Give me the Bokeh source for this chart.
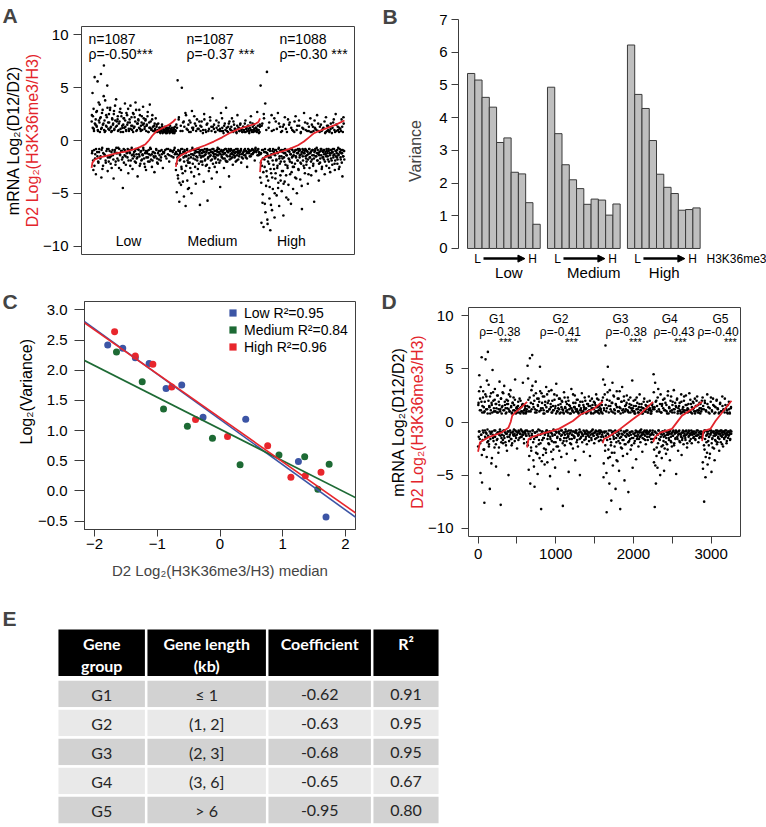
import numpy as np
from bokeh.plotting import figure
from bokeh.layouts import column, row
from bokeh.models import (Range1d, FixedTicker, Label, Slope, Legend, LegendItem,
                          Arrow, NormalHead, Title)
from bokeh.core.properties import value
from bokeh.embed import file_html
from bokeh.resources import INLINE

FONT = "Liberation Sans"
TFONT = "Lato"
RED = "#e3242b"
AXC = "#3c3c3c"
MINUS = "\u2212"

# ======================= DATA =======================
# ---- Panel A: mRNA log2(D12/D2), genes ranked by H3K36me3 within each group
# (two interleaved samples of genes per group, each in rank order)
a_groups = ["Low", "Medium", "High"]
a_sizes = [1087, 1087, 1088]
a_n_text = ["n=1087", "n=1087", "n=1088"]
a_rho_text = ["ρ=-0.50***", "ρ=-0.37 ***", "ρ=-0.30 ***"]

a_low_mrna = [
    1.8, -1.2, 4.5, 2.3, -2.8, 1.1, -0.9, 6.0, -1.7, 1.5,
    -3.2, 2.7, 1.3, -1.1, 5.6, 0.9, -2.1, 1.9, -0.8, 3.4,
    2.1, -1.5, 6.3, -3.5, 1.2, -0.7, 2.9, -2.4, 1.6, 7.1,
    -1.3, 0.8, 3.8, -1.9, 1.4, -1.0, 2.2, 5.2, -2.9, 1.7,
    -0.8, 2.5, 1.0, -1.6, 3.1, -2.2, 1.3, -1.1, 0.9, 2.0,
    -1.4, 1.6, -3.6, 2.8, 1.1, -0.9, 1.9, -2.0, 3.9, -1.2,
    1.4, -1.7, 2.3, -0.7, 1.0, -2.6, 1.8, -1.3, 3.0, 0.8,
    -1.0, 2.6, -1.8, 1.2, -4.5, 1.5, -0.8, 2.1, -1.4, 3.5,
    1.3, -2.3, 0.9, -1.1, 2.4, -1.6, 1.7, -3.1, 1.1, -0.9,
    2.0, -1.2, 3.3, -1.9, 1.4, -0.7, 1.0, -2.7, 2.6, -1.3,
    1.2, -1.5, 2.2, -1.0, 3.6, -2.1, 0.9, -1.7, 1.6, -3.4,
    -0.8, 1.9, -1.3, 2.9, -2.4, 1.1, -1.1, 1.4, -1.9, 2.3,
    1.0, -1.4, 3.2, -0.9, 1.6, -2.2, 1.3, -1.2, 2.0, -2.8,
    -1.6, 1.5, -1.0, 2.7, -2.0, 0.8, -1.3, 1.2, 3.4, -0.7,
    1.8, -1.8, 1.1, -2.5, 2.4, -1.1, 0.9, -1.5, 1.4, -3.0,
    -1.2, 1.0, 2.1, -0.8, 1.3, -1.7, 0.8, -2.2, 1.6, -1.0,
    0.9, -1.4, 1.2, 0.7, -1.9, 1.0, -0.9, 1.5, 0.8, -2.6,
    1.1, 0.8, -1.1, 0.9, 1.3, -1.5, 0.7, 1.0, -0.8, 1.2,
    0.8, -1.3, 1.1, 0.9, -2.0, 0.7, 1.4, -0.9, 1.0, 0.8,
    1.2, -1.0, 0.9, 0.7, -1.6, 1.1, 0.8, -0.7, 1.3, -1.2,
]
a_low_mrna_b = [
    2.4, -1.0, 1.2, -1.9, 3.0, 0.9, -2.4, 1.6, -1.3, 2.0,
    -0.8, 1.4, 2.8, -1.5, 1.0, -2.0, 3.6, -1.1, 1.7, 0.8,
    -1.7, 2.2, 1.1, -0.9, 2.6, -2.7, 1.5, -1.2, 4.2, 1.0,
    1.9, -1.4, 0.9, -2.1, 2.4, 1.3, -0.8, 3.1, -1.6, 1.1,
    -2.0, 1.7, -1.0, 2.9, 1.2, -1.5, 0.8, -2.6, 2.1, -0.9,
    1.5, -1.8, 2.5, 1.0, -1.1, 3.3, -2.3, 1.3, -0.7, 1.8,
    -1.2, 2.0, 0.9, -1.9, 1.6, -0.8, 2.7, -1.4, 1.1, -2.8,
    2.3, -1.0, 1.4, -1.6, 0.8, 2.1, -2.1, 1.2, -0.9, 1.9,
    -1.5, 1.0, 2.6, -1.2, 1.5, -0.8, 3.0, -1.9, 0.9, -1.1,
    1.7, -2.4, 1.1, -0.9, 2.2, -1.4, 1.4, -1.7, 0.8, 2.5,
    -1.1, 1.3, -2.0, 1.8, -0.8, 2.9, -1.3, 1.0, -1.6, 1.6,
    2.0, -0.9, 1.2, -1.5, 2.4, -2.2, 0.9, -1.0, 1.7, -1.8,
    -1.3, 1.5, -0.7, 2.1, -1.7, 1.1, -2.5, 1.9, -1.0, 0.9,
    1.4, -1.2, 2.3, -1.6, 0.8, -0.9, 1.7, -2.0, 1.2, -1.4,
    -0.8, 1.0, -1.3, 2.0, -1.9, 1.3, -1.1, 0.9, -1.6, 1.6,
    1.1, -1.5, 0.8, -0.9, 1.5, -2.1, 1.0, -1.2, 0.9, -1.8,
    1.2, 0.8, -1.0, 1.0, -1.6, 0.9, -1.3, 1.3, 0.7, -1.1,
    0.9, -1.2, 1.0, 0.8, -0.9, 1.2, 0.9, -1.7, 0.7, 1.1,
    1.0, -0.8, 0.9, 1.2, -1.4, 0.8, -1.0, 1.1, 0.9, -1.5,
    0.8, 1.0, -1.1, 0.9, 1.2, -0.9, 0.7, -1.3, 1.0, 0.9,
]
a_medium_mrna = [
    -2.8, 1.5, -4.9, -1.3, 5.7, -3.6, -1.0, 2.2, -5.8, -1.9,
    -1.2, 0.9, -4.2, -2.5, 5.0, -0.8, -3.1, 1.7, -1.6, -5.3,
    1.3, -1.1, -2.9, -6.2, 2.4, -1.5, -0.9, -3.8, 1.0, -2.1,
    -1.7, -4.5, 1.9, -1.0, -2.6, 0.8, -1.3, -5.0, 2.8, -0.7,
    -2.2, 1.2, -1.4, -3.4, -0.9, 1.6, -1.8, -4.1, 0.9, -1.1,
    2.0, -1.6, -2.7, -0.8, 1.1, -3.2, -1.2, -6.1, 1.4, -2.0,
    -0.9, 1.8, -1.5, -2.3, 0.7, -1.0, -3.9, 2.5, -1.4, -1.9,
    1.0, -2.4, -1.1, 1.5, -0.8, -5.7, -1.7, 0.9, -2.9, -1.2,
    -1.5, 2.2, -0.9, -1.9, 1.3, -3.6, -1.1, 4.0, -2.2, -0.8,
    1.1, -1.3, -2.5, 0.8, -1.6, -1.0, 1.9, -3.0, -1.4, -0.7,
    -1.8, 1.4, -1.1, -2.1, 0.9, -4.4, -1.3, 2.6, -0.9, -1.6,
    1.2, -1.0, -1.7, 0.7, -2.6, -1.2, 1.6, -0.8, -1.9, 3.1,
    -1.4, 0.9, -2.0, -1.1, 1.3, -0.8, -3.4, 1.8, -1.5, -1.0,
    1.0, -1.7, -0.9, 2.1, -1.3, -2.3, 0.8, -1.1, 1.5, -1.6,
    -1.2, 1.1, -2.0, -0.8, 0.7, -1.4, 2.4, -1.0, -1.8, 1.2,
    -1.5, 0.9, -1.1, 1.6, -0.9, -2.1, 1.0, -1.3, 0.8, -1.7,
    1.3, -1.0, -1.4, 0.8, -0.8, 1.9, -1.6, 1.1, -1.2, -2.5,
    0.9, -1.1, 1.4, -0.9, 0.7, -1.5, 1.2, -1.0, 2.3, -1.3,
    1.0, -0.8, 1.6, -1.2, 0.8, -1.0, 1.1, -1.9, 0.9, -0.7,
    1.2, -1.1, 0.8, 2.7, -0.9, 1.0, -1.4, 0.7, -1.2, 1.5,
]
a_medium_mrna_b = [
    -1.1, -2.2, 1.2, -1.6, -3.3, -0.9, 2.0, -1.4, -4.0, -1.0,
    -1.8, 1.4, -0.8, -2.7, -1.3, 0.9, -3.9, -1.1, 1.8, -2.0,
    -0.9, -1.5, 2.6, -1.2, -2.4, 1.1, -0.8, -1.9, -4.6, 1.5,
    -1.4, 0.8, -2.1, -1.0, 1.7, -1.6, -3.0, -0.9, 1.2, -1.3,
    1.0, -1.7, -0.9, 2.3, -1.2, -2.5, -1.0, 1.4, -1.5, -0.8,
    -1.9, 1.1, -1.1, -0.8, -2.2, 1.8, -1.4, -1.0, 0.9, -1.6,
    1.3, -1.2, -2.0, -0.9, 1.0, -1.5, -1.1, 2.0, -0.8, -1.8,
    -1.3, 0.8, -1.0, -2.3, 1.6, -0.9, -1.6, -1.2, 1.1, -2.6,
    -0.9, 1.9, -1.4, -1.1, 0.9, -1.8, -0.8, 1.3, -1.2, -1.5,
    1.5, -1.0, -1.7, 0.8, -1.3, -2.1, 1.2, -0.9, -1.1, 1.0,
    -1.4, 1.7, -0.8, -1.2, 1.1, -1.9, -1.0, 0.9, -1.5, 2.1,
    -1.1, 0.9, -1.3, -0.9, 1.4, -1.7, -1.2, 1.0, -0.8, -2.0,
    1.2, -1.0, -1.5, 0.8, -1.1, 1.6, -0.9, -1.8, 1.1, -1.3,
    -0.8, 1.3, -1.2, -1.6, 0.9, -1.0, 1.8, -1.4, -0.9, 1.1,
    -1.5, 1.0, -1.1, 0.8, -1.9, 1.4, -0.8, -1.2, 1.2, -1.0,
    0.9, -1.3, 1.5, -1.0, -0.8, 1.1, -1.6, 0.8, -1.2, 1.3,
    -1.1, 1.0, -0.9, 1.6, -1.4, 0.8, -1.0, 1.2, -1.7, 0.9,
    1.4, -0.8, 1.1, -1.2, 0.9, -1.0, 1.7, -1.5, 1.0, -0.9,
    0.8, -1.3, 1.3, -0.9, 1.0, 1.5, -1.1, 0.9, -0.8, 1.2,
    -1.0, 1.1, 0.9, -1.4, 1.4, -0.8, 1.0, -1.1, 0.8, 1.3,
]
a_high_mrna = [
    -3.5, 5.2, -1.2, -7.8, -2.4, 1.6, -5.1, -0.9, -8.2, 2.1,
    -1.8, -6.0, 3.5, -1.1, -4.3, -2.9, 6.5, -7.5, -1.4, -3.8,
    1.2, -2.2, -5.5, -0.8, -8.5, -1.6, -3.1, 2.4, -6.6, -1.0,
    -4.6, -1.3, 1.0, -2.7, -7.3, -0.9, -3.6, 1.8, -1.9, -5.2,
    -1.1, -2.4, 2.6, -4.0, -0.7, -6.2, -1.5, 1.3, -3.3, -2.0,
    -0.9, -4.8, 0.9, -1.7, -2.9, -7.1, 1.5, -1.2, -3.9, -0.8,
    -2.3, 1.1, -5.4, -1.4, -0.9, -2.6, 2.0, -4.2, -1.0, -1.8,
    1.7, -3.2, -1.3, -6.0, -0.8, -2.1, 1.0, -1.5, -4.6, -1.1,
    -2.5, 0.8, -1.0, -3.5, 2.3, -1.6, -0.9, -5.0, 1.4, -1.9,
    -1.2, -2.8, 1.9, -0.8, -1.4, -3.7, 0.7, -2.2, -1.1, -6.5,
    1.2, -1.5, -0.9, -2.4, 2.6, -1.2, -3.1, -0.8, 1.0, -1.7,
    -2.0, -1.0, 1.6, -4.1, -1.3, 0.9, -0.8, -2.6, -1.6, 2.1,
    -1.1, -3.3, 0.8, -1.8, -0.9, 1.3, -2.2, -1.4, -5.8, 1.9,
    -1.0, 1.1, -2.9, -1.5, -0.7, 2.4, -1.9, -1.2, 0.9, -3.8,
    -1.4, 0.8, -2.1, -1.0, 1.5, -0.8, -2.7, 1.0, -1.6, -1.1,
    1.2, -1.8, -0.9, -3.2, 0.7, -1.3, 2.2, -2.4, -1.0, 0.9,
    -1.5, 1.4, -0.8, -2.0, 0.8, -1.2, -3.0, 1.1, -1.7, -0.9,
    0.7, -2.3, -1.1, 1.7, -1.4, -0.8, 1.0, -2.8, -1.9, 2.5,
    -1.0, 0.9, -1.6, -2.2, 1.3, -0.7, -1.3, 0.8, -2.5, -1.1,
    1.1, -1.8, -0.9, 2.0, -1.2, -3.4, 0.8, -1.5, 1.6, -1.0,
]
a_high_mrna_b = [
    -1.3, -2.1, -4.0, 1.4, -0.9, -5.9, -1.7, -3.0, 2.5, -1.1,
    -2.5, -0.8, -6.8, -1.5, 1.0, -3.4, -1.2, -7.9, -2.0, -0.9,
    -1.6, 1.7, -4.4, -1.0, -2.7, -6.1, -1.3, 0.9, -3.5, -1.9,
    -0.8, -2.3, -1.1, 2.1, -5.0, -1.4, -3.1, -0.9, -1.8, 1.1,
    -2.6, -1.2, -4.5, -0.8, 1.6, -1.7, -2.2, -1.0, -3.8, 0.8,
    -1.5, -2.9, -1.1, 1.3, -0.9, -4.1, -1.6, -2.0, 2.2, -1.2,
    -0.9, -3.3, -1.4, 0.8, -2.4, -1.0, -5.6, -1.7, 1.5, -1.1,
    -2.0, -0.8, -1.3, 1.2, -3.0, -1.6, -0.9, -2.5, 0.9, -1.4,
    -1.1, 1.8, -2.2, -0.9, -1.5, -3.6, 1.0, -1.2, -1.9, -0.8,
    -2.7, -1.0, 1.4, -1.6, -0.9, -2.1, 0.8, -1.3, -4.3, -1.1,
    -0.8, -1.9, 1.1, -1.2, -2.6, -1.0, 1.7, -1.5, -0.9, -2.3,
    -1.4, 0.9, -1.1, -1.8, -3.2, 1.3, -0.8, -1.6, -1.2, 0.8,
    -2.0, -1.0, 1.5, -1.4, -0.9, -2.4, 0.9, -1.7, -1.1, 1.2,
    -0.8, -1.5, -2.9, 1.0, -1.2, -1.9, -0.9, 1.6, -1.3, -2.2,
    -1.1, 1.3, -1.7, -0.8, -1.4, 0.9, -2.5, -1.0, 1.1, -1.6,
    -0.9, -1.3, 1.8, -2.0, -1.1, 0.8, -1.5, -0.8, 1.4, -1.2,
    -1.8, 1.0, -1.0, -2.6, 0.9, -1.4, -0.9, 1.6, -1.2, -1.9,
    -1.1, 1.2, -0.8, -1.6, 2.0, -1.3, -2.2, 0.8, -1.0, -1.5,
    1.5, -1.2, -0.9, -1.8, 1.0, -1.4, -2.7, 1.2, -0.8, -1.1,
    -1.6, 0.9, -1.2, -2.1, 1.3, -0.9, -1.5, 2.2, -1.0, -1.8,
]
# sorted D2 log2(H3K36me3/H3) within each group: (rank within group, value)
a_low_k36_rank = [0, 11, 43, 109, 217, 326, 435, 544, 630, 696, 739, 783, 826, 870, 935, 1000, 1054, 1087]
a_low_k36 = [-2.6, -2.1, -1.8, -1.6, -1.4, -1.2, -1.05, -0.85, -0.6, -0.35, 0.0, 0.45, 0.8, 1.0, 1.25, 1.5, 1.8, 2.05]
a_medium_k36_rank = [0, 22, 65, 163, 272, 380, 489, 598, 707, 815, 924, 1033, 1065, 1087]
a_medium_k36 = [-2.5, -1.7, -1.4, -1.05, -0.75, -0.45, -0.1, 0.3, 0.75, 1.1, 1.35, 1.6, 1.75, 2.1]
a_high_k36_rank = [0, 11, 54, 163, 272, 381, 490, 566, 631, 696, 762, 870, 979, 1088]
a_high_k36 = [-3.0, -1.9, -1.6, -1.3, -1.05, -0.8, -0.45, -0.1, 0.3, 0.7, 0.9, 1.2, 1.5, 1.9]

# ---- Panel B: variance per H3K36me3 bin (L -> H)
b_groups = ["Low", "Medium", "High"]
b_low_var = [5.35, 5.15, 4.62, 4.32, 3.24, 3.38, 2.33, 2.28, 1.40, 0.74]
b_medium_var = [4.93, 3.51, 2.56, 2.10, 1.83, 1.35, 1.51, 1.48, 1.02, 1.36]
b_high_var = [6.22, 4.71, 4.28, 3.30, 2.27, 1.87, 1.68, 1.17, 1.19, 1.24]

# ---- Panel C: bin median of D2 log2(H3K36me3/H3)
c_low_median = [-1.79, -1.55, -1.35, -1.13, -0.86, -0.61, -0.27, 0.41, 1.25, 1.69]
c_medium_median = [-1.65, -1.24, -0.90, -0.52, -0.12, 0.32, 0.94, 1.35, 1.56, 1.74]
c_high_median = [-1.68, -1.35, -1.07, -0.77, -0.39, 0.12, 0.76, 1.13, 1.36, 1.61]
c_r2 = ["0.95", "0.84", "0.96"]

# ---- Panel D: genes grouped by length
d_groups = ["G1", "G2", "G3", "G4", "G5"]
d_rho = ["ρ=-0.38", "ρ=-0.41", "ρ=-0.38", "ρ=-0.43", "ρ=-0.40"]
d_bounds = [0, 631, 1604, 2253, 2884, 3262]
d_g1_mrna = [
    -2.3, 1.8, -0.9, 4.4, -1.6, 2.2, -4.8, 1.1, -1.2, 6.1,
    -5.7, 1.5, -0.8, 2.9, -2.6, 0.9, -7.6, 1.9, -1.4, 5.9,
    -1.0, 2.4, -3.3, 1.2, -0.7, 6.6, -1.8, 3.5, -2.1, 1.4,
    -6.3, 0.8, -1.1, 2.7, -3.9, 1.6, -0.9, 4.9, -1.5, 2.0,
    -1.3, 1.0, -2.4, 3.1, -0.8, 1.7, -4.2, 1.3, -1.7, 2.5,
    -1.0, 0.9, -2.9, 1.9, -1.2, 3.8, -0.7, 1.2, -7.8, 2.2,
    -1.5, 1.4, -0.9, 2.8, -2.0, 1.1, -1.3, 3.4, -0.8, 1.6,
    -1.9, 0.8, -1.1, 2.1, -2.7, 1.3, -0.9, 1.7, -5.0, 2.6,
    -1.4, 1.0, -0.8, 3.0, -1.6, 1.5, -2.2, 0.9, -1.0, 1.8,
    -1.2, 2.3, -0.7, 1.1, -1.8, 4.0, -1.3, 0.8, -0.9, 1.4,
    -2.5, 1.2, -1.0, 1.9, -0.8, 0.9, -1.5, 1.3, -1.1, 2.0,
    -0.7, 1.0, -1.4, 1.6, -0.9, 3.7, -1.2, 0.8, -2.0, 1.1,
    -1.0, 1.5, -0.8, 0.9, -1.3, 1.2,
]
d_g1_mrna_b = [
    1.6, -1.4, 2.9, -0.9, 1.1, -2.0, 3.3, -1.2, 1.9, -3.1,
    0.9, -1.7, 2.3, -1.0, 1.4, -2.6, 1.0, -0.8, 2.6, -1.5,
    1.2, -1.1, 3.9, -1.9, 0.8, -1.3, 2.0, -2.3, 1.5, -0.9,
    2.4, -1.6, 1.1, -1.0, 1.8, -3.4, 0.9, -1.2, 2.8, -1.8,
    1.3, -0.8, 2.1, -1.4, 1.0, -2.1, 1.7, -1.1, 0.9, -1.6,
    2.5, -1.0, 1.2, -2.4, 1.6, -0.9, 1.0, -1.3, 2.2, -1.9,
    0.8, -1.2, 1.5, -1.7, 2.7, -0.8, 1.1, -1.5, 1.9, -1.0,
    1.3, -2.2, 0.9, -1.1, 1.7, -1.4, 2.0, -0.9, 1.2, -1.8,
    1.0, -1.2, 2.4, -1.0, 1.4, -1.6, 0.8, -2.0, 1.8, -0.9,
    1.1, -1.3, 1.6, -1.1, 2.1, -0.8, 1.0, -1.5, 1.3, -1.2,
    0.9, -1.0, 1.5, -1.7, 1.2, -0.9, 2.2, -1.1, 0.8, -1.4,
    1.4, -0.8, 1.0, -1.2, 1.7, -1.0, 0.9, -1.6, 1.1, -0.9,
    1.3, -1.1, 0.8, -1.3, 1.0, -0.8,
]
d_g2_mrna = [
    -1.9, 5.3, -0.9, 2.1, -4.5, 1.4, -1.3, 6.0, -5.8, 1.0,
    -2.4, 3.0, -1.1, 6.3, -0.8, 1.7, -3.6, 2.5, -1.6, -6.1,
    1.2, -1.0, 3.8, -2.9, 0.9, -1.4, 2.2, -4.9, 1.5, -0.7,
    -2.1, 1.9, -3.4, 5.2, -1.2, 1.1, -8.2, 2.7, -0.9, -1.7,
    1.3, -3.1, 0.8, -1.5, 2.4, -4.0, 1.6, -1.0, -2.6, 3.3,
    -0.8, 1.0, -3.8, 1.8, -1.3, -2.0, 2.9, -0.9, 1.2, -5.1,
    -1.6, 1.4, -2.8, 0.9, -1.1, 2.0, -3.5, 1.1, -0.7, -1.9,
    2.6, -1.2, -4.3, 1.5, -0.9, 3.6, -2.3, 1.0, -1.4, -6.3,
    1.3, -1.0, 2.2, -2.7, 0.8, -1.6, 1.7, -0.8, -3.3, 2.0,
    -1.2, 1.2, -7.9, 0.9, -1.8, 2.8, -1.0, -2.2, 1.4, -0.7,
    1.9, -1.5, -3.0, 1.1, -0.9, 2.3, -1.3, -4.7, 1.6, -1.1,
    0.8, -2.0, 1.3, -0.8, 3.1, -1.6, -1.2, 1.0, -2.5, 1.8,
    -0.9, 1.4, -1.4, 2.5, -3.6, 1.2, -1.0, -0.8, 2.1, -1.7,
    1.0, -2.3, 0.9, -1.2, 1.5, -0.7, -5.0, 1.9, -1.5, 1.1,
    -1.0, 2.7, -1.9, 0.8, -1.3, 1.6, -2.8, 1.2, -0.9, -1.1,
    2.0, -1.6, 1.3, -0.8, -2.1, 0.9, -1.2, 1.7, -1.0, 2.4,
    -1.4, 1.1, -3.2, 1.5, -0.9, 0.8, -1.7, 2.2, -1.1, -0.7,
    1.3, -1.3, 1.9, -2.0, 0.9, -1.0, 1.6, -0.8, 2.6, -1.5,
    1.0, -1.2, 1.4, -0.9, 2.1, -1.8, 0.8, -1.1, 1.7, -0.8,
    1.2, -1.4, 0.9, 2.0, -1.0,
]
d_g2_mrna_b = [
    1.5, -2.2, 4.1, -1.1, 1.0, -3.2, 2.3, -0.9, -1.6, 1.8,
    -2.7, 1.2, -1.3, 3.4, -0.8, -1.9, 1.4, -4.2, 2.0, -1.0,
    0.9, -1.4, 2.7, -2.3, 1.1, -0.9, -3.0, 1.6, -1.2, 2.2,
    -1.7, 1.0, -0.8, 2.9, -2.0, 1.3, -1.1, -3.7, 1.8, -0.9,
    2.4, -1.5, 1.1, -2.5, 0.8, -1.2, 1.9, -1.0, -2.9, 1.4,
    -0.8, 2.6, -1.6, 1.0, -1.1, 2.0, -2.1, 1.2, -0.9, -1.4,
    1.7, -1.0, 3.0, -1.8, 0.9, -1.3, 1.5, -2.6, 1.1, -0.8,
    2.1, -1.2, 1.3, -1.9, 0.8, -1.0, 2.5, -1.5, 1.0, -2.3,
    1.6, -0.9, 1.2, -1.1, 2.2, -1.7, 0.9, -1.3, 1.4, -0.8,
    1.9, -2.0, 1.1, -1.0, 0.8, -1.5, 2.3, -1.2, 1.3, -0.9,
    1.0, -1.8, 1.7, -1.1, 0.9, -1.4, 2.0, -0.8, 1.2, -1.6,
    1.5, -1.0, 0.8, -2.1, 1.3, -1.2, 1.1, -0.9, 2.6, -1.3,
    0.9, -1.5, 1.4, -1.0, 1.8, -0.8, 1.0, -1.9, 1.2, -1.1,
    2.1, -1.3, 0.8, -1.0, 1.6, -1.6, 1.1, -0.9, 1.3, -1.4,
    0.9, -1.1, 1.9, -1.2, 1.0, -0.8, 1.4, -1.7, 2.3, -1.0,
    1.2, -1.4, 0.8, -1.1, 1.7, -0.9, 1.0, -1.3, 1.5, -1.8,
    1.1, -1.0, 2.0, -1.2, 0.9, -1.5, 1.3, -0.8, 1.6, -1.1,
    0.8, -1.3, 1.2, -1.0, 1.8, -1.6, 1.0, -0.9, 1.4, -1.2,
    2.2, -1.1, 0.9, -1.4, 1.1, -0.8, 1.5, -1.0, 1.3, -1.7,
    1.0, -0.9, 1.6, -1.2, 0.8,
]
d_g3_mrna = [
    -1.8, 4.0, -5.2, 1.3, -0.9, 2.6, -2.7, 7.2, -1.3, 1.0,
    -8.5, 2.1, -1.1, 5.2, -3.4, 1.5, -0.8, -5.8, 3.0, -1.6,
    1.2, -2.2, -7.4, 1.8, -1.0, 3.7, -4.1, 0.9, -1.4, 2.4,
    -2.9, 1.1, -0.8, -6.3, 1.6, -1.9, 2.9, -1.2, -3.7, 1.0,
    -0.9, 2.2, -4.6, 1.4, -1.5, -8.2, 0.8, -2.4, 1.9, -1.1,
    3.3, -1.7, -3.2, 1.2, -0.9, 2.0, -5.5, 1.0, -1.3, -2.1,
    1.6, -0.8, 2.5, -3.0, 1.1, -1.2, -6.6, 0.9, -1.8, 1.7,
    -1.0, 2.3, -2.6, 1.3, -0.9, -1.5, 3.9, -4.3, 1.0, -1.1,
    1.5, -2.0, 0.8, -1.3, 2.1, -0.8, -3.5, 1.2, -1.6, 1.8,
    -1.0, 0.9, -2.3, 1.4, -0.9, 2.6, -1.4, -1.9, 1.1, -0.7,
    1.7, -1.2, -2.8, 0.8, -1.0, 1.3, -1.6, 2.2, -0.8, -1.3,
    1.0, -2.1, 1.5, -0.9, -1.1, 1.9, -1.7, 0.9, -1.0, 1.2,
    -1.4, 2.0, -0.8, 1.1, -1.2, 0.8, -1.9, 1.6, -1.0, 1.4,
]
d_g3_mrna_b = [
    2.3, -1.4, -3.9, 1.1, -1.0, 3.5, -2.2, 1.6, -0.9, -4.8,
    1.3, -1.7, 2.8, -1.1, -2.6, 0.9, -1.3, 2.0, -3.3, 1.5,
    -0.8, -1.9, 1.0, -2.9, 1.8, -1.2, -0.9, 2.5, -1.6, 1.2,
    -2.3, 0.8, -1.0, 1.7, -1.5, -3.6, 1.4, -0.9, 2.2, -1.3,
    -1.8, 1.0, -1.1, 2.9, -2.0, 1.3, -0.8, -1.4, 1.9, -2.5,
    1.1, -1.2, 0.9, -1.7, 2.4, -1.0, -2.1, 1.5, -0.9, 1.2,
    -1.4, 1.8, -1.1, -0.8, 1.0, -1.9, 2.1, -1.3, 1.4, -1.0,
    -1.6, 0.9, -1.2, 1.6, -2.2, 1.1, -0.9, 1.3, -1.5, 2.0,
    -1.1, 1.0, -1.8, 0.8, -1.0, 1.5, -1.3, 2.3, -0.9, -1.4,
    1.2, -1.2, 0.9, -1.6, 1.7, -1.0, -0.8, 1.1, -1.3, 1.4,
    -1.0, 0.8, -1.5, 1.3, -1.1, 1.9, -0.9, -1.2, 1.0, -1.7,
    1.6, -1.0, 1.2, -0.8, -1.4, 0.9, -1.1, 1.5, -1.0, 1.1,
    -0.9, 1.3, -1.2, 0.8, -1.6, 1.0, -1.1, 1.7, -0.8, 1.2,
]
d_g4_mrna = [
    -1.6, 4.5, -3.8, 1.2, -8.0, 3.7, -1.0, -5.8, 2.0, -2.4,
    1.5, -4.3, -1.2, 3.1, -0.8, -2.9, 1.0, -1.7, -5.0, 2.6,
    -1.1, 0.9, -3.4, 1.7, -0.9, -2.2, 1.3, -1.4, -4.6, 2.2,
    -0.8, 1.1, -1.9, -3.0, 1.6, -1.2, 0.8, -2.6, 2.9, -1.0,
    -1.5, 1.4, -0.9, -3.6, 1.0, -1.8, 2.4, -1.1, -2.3, 0.9,
    1.9, -1.3, -0.8, 3.0, -2.0, 1.2, -1.0, -1.6, 1.5, -4.9,
    -0.9, 2.1, -1.4, 0.8, -2.7, 1.3, -1.1, -0.8, 1.8, -1.9,
    1.0, -1.2, 2.6, -3.1, 0.9, -1.5, -1.0, 1.4, -2.1, 2.0,
    -0.9, 1.1, -1.3, -1.7, 2.5, -0.8, 1.6, -2.4, -1.1, 0.9,
    1.2, -1.4, -0.9, 2.7, -1.8, 1.0, -1.2, 1.7, -0.8, -2.0,
    0.8, -1.0, 1.9, -1.5, 1.3, -1.1, -0.9, 2.2, -1.6, 1.0,
    -1.3, 1.5, -0.8, 2.4, -1.2, 0.9, -1.9, 1.1, -1.0, 1.8,
    -1.4, 0.8, -1.1, 1.3, -0.9, 2.0,
]
d_g4_mrna_b = [
    -1.2, 2.8, -2.6, 1.4, -0.9, -4.1, 1.9, -1.5, -3.2, 1.0,
    -1.1, 2.3, -2.0, -0.8, 1.2, -1.6, -2.8, 1.7, -1.0, -1.4,
    0.9, -2.3, 1.5, -1.2, -0.9, 2.1, -1.8, -1.1, 1.1, -2.5,
    -1.3, 1.8, -0.9, -1.5, 1.0, -2.1, -1.0, 2.5, -1.2, 0.8,
    -1.7, 1.3, -1.1, -0.8, 2.0, -1.4, -1.9, 1.1, -1.0, 1.6,
    -1.3, -0.9, 1.2, -2.2, 0.9, -1.1, 1.8, -1.5, -0.8, 1.4,
    -1.0, 2.2, -1.6, 1.0, -1.2, -0.9, 1.5, -1.8, 1.1, -1.1,
    0.8, -1.4, 1.9, -1.0, -1.7, 1.2, -0.8, 1.0, -1.3, 2.4,
    -1.1, 0.9, -1.5, 1.6, -0.9, -1.2, 1.1, -2.0, 1.3, -1.0,
    1.7, -0.8, -1.3, 1.0, -1.1, 2.1, -1.6, 0.9, -1.0, 1.4,
    -1.2, 1.2, -0.9, 1.8, -1.4, 1.0, -1.1, 0.8, -1.7, 1.5,
    -1.0, 2.0, -1.3, 1.1, -0.8, 1.6, -1.2, 0.9, -1.5, 1.3,
    -0.9, 1.7, -1.1, 1.0, -1.4, 1.2,
]
d_g5_mrna = [
    -1.5, 2.3, -4.4, -1.0, 1.2, -7.5, -2.6, 1.8, -0.8, -3.3,
    1.0, -1.9, -1.2, 2.6, -4.0, -0.9, 1.4, -2.2, -1.4, 0.8,
    -3.0, -1.1, 1.9, -0.8, -4.7, 1.1, -1.6, -2.4, 2.2, -1.0,
    -0.9, 1.5, -3.6, -1.3, 0.9, -1.8, -1.0, 2.0, -2.1, -0.8,
    1.3, -1.5, -1.1, 0.8, -2.7, -0.9, 1.7, -1.2, -1.9, 1.0,
    -0.8, -1.4, 2.4, -1.0, -2.3, 1.2, -0.9, -1.6, 0.9, -1.1,
    1.6, -1.3, -0.8, -2.0, 1.1, -1.0, 0.8, -1.5, -0.9, 1.9,
    -1.2, 0.9, -1.7, -0.8, 1.3, -1.1,
]
d_g5_mrna_b = [
    -1.2, -3.8, 1.5, -1.0, -2.2, -0.8, 2.0, -1.6, -5.2, 1.1,
    -1.3, -0.9, -2.9, 1.7, -1.1, -1.8, 0.9, -1.4, -3.4, 1.3,
    -0.8, -1.2, 2.3, -1.0, -2.0, 1.0, -1.5, -0.9, 1.6, -1.3,
    -2.5, 0.8, -1.1, -1.7, 1.4, -0.8, -1.2, 2.1, -1.0, -1.9,
    1.2, -1.4, -0.9, 0.9, -1.6, -1.1, 1.8, -0.8, -1.3, 1.0,
    -1.0, -2.1, 1.5, -1.2, -0.9, 1.1, -1.5, -1.0, 2.2, -0.8,
    -1.4, 1.3, -1.1, -1.8, 0.9, -1.2, 1.6, -0.9, -1.3, 1.2,
    -1.0, 0.8, -1.6, -1.1, 1.4, -0.9,
]
d_g1_k36_rank = [0, 25, 130, 300, 390, 420, 440, 480, 560, 631]
d_g1_k36 = [-2.8, -1.9, -1.45, -1.0, -0.55, 0.0, 0.6, 0.9, 1.4, 1.9]
d_g2_k36_rank = [631, 650, 700, 830, 1040, 1220, 1330, 1480, 1604]
d_g2_k36 = [-2.4, -1.6, -1.4, -1.1, -0.65, 0.1, 0.75, 1.2, 1.9]
d_g3_k36_rank = [1604, 1620, 1665, 1830, 2000, 2110, 2253]
d_g3_k36 = [-2.0, -1.6, -1.45, -0.65, 0.3, 0.9, 1.9]
d_g4_k36_rank = [2253, 2280, 2346, 2496, 2625, 2753, 2884]
d_g4_k36 = [-1.9, -1.4, -1.0, -0.65, 0.6, 1.2, 1.9]
d_g5_k36_rank = [2884, 2900, 2990, 3056, 3142, 3262]
d_g5_k36 = [-1.8, -0.85, -0.65, 0.1, 0.9, 2.0]

# ---- Panel E: table
e_header_1 = ["Gene", "Gene length", "Coefficient", "R²"]
e_header_2 = ["group", "(kb)", "", ""]
e_group = ["G1", "G2", "G3", "G4", "G5"]
e_length = ["≤ 1", "(1, 2]", "(2, 3]", "(3, 6]", "> 6"]
e_coef = [-0.62, -0.63, -0.68, -0.65, -0.95]
e_r2 = [0.91, 0.95, 0.95, 0.67, 0.80]


# ======================= HELPERS =======================
def ranks(start, size, k, phase=0.5):
    return start + (np.arange(k) + phase) * size / k


def style_axis(ax, ticks, overrides=None, bounds=None, tick_out=7, standoff=5):
    ax.ticker = FixedTicker(ticks=ticks, minor_ticks=[])
    ax.major_label_text_font = FONT
    ax.major_label_text_font_size = "15px"
    ax.major_label_text_color = "black"
    ax.axis_line_color = AXC
    ax.major_tick_line_color = AXC
    ax.major_tick_out = tick_out
    ax.major_tick_in = 0
    ax.minor_tick_line_color = None
    ax.major_label_standoff = standoff
    if overrides:
        ax.major_label_overrides = overrides
    if bounds:
        ax.bounds = bounds


def lab(p, x, y, text, size="14px", align="left", baseline="middle", color="black"):
    p.add_layout(Label(x=x, y=y, text=text, text_font=FONT, text_font_size=size,
                       text_align=align, text_baseline=baseline, text_color=color))


def side_title(p, text, color="black", size="16px", align="center", offset=0, standoff=0):
    p.add_layout(Title(text=text, text_color=color, text_font=FONT, text_font_size=size,
                       text_font_style="normal", align=align, offset=offset,
                       standoff=standoff), "left")


def letter_left(p, text, x, y):
    # panel letter placed in the left side panel (outermost), screen units
    p.add_layout(Label(x=x, y=y, x_units="screen", y_units="screen", text=text,
                       text_font=FONT, text_font_size="21px", text_font_style="bold",
                       text_baseline="top", text_align="left"), "left")


def base_fig(w, h, xr, yr, l, r, t, b, xloc="below", yloc="left"):
    p = figure(width=w, height=h, x_range=xr, y_range=yr, title=None,
               toolbar_location=None, output_backend="svg",
               x_axis_location=xloc, y_axis_location=yloc,
               min_border_left=l, min_border_right=r,
               min_border_top=t, min_border_bottom=b, frame_align=False)
    p.xgrid.grid_line_color = None
    p.ygrid.grid_line_color = None
    p.background_fill_color = "white"
    p.border_fill_color = "white"
    p.outline_line_color = "#404040"
    p.outline_line_width = 1
    return p


def signed(v):
    return f"{v:g}".replace("-", MINUS)


PT = 2.6  # scatter dot size

# ======================= PANEL A =======================
axr, ayr = Range1d(-130, 3392), Range1d(-10.8, 10.8)
pA = base_fig(378, 290, axr, ayr, 81, 24, 26, 36, xloc=None)
yt = [-10, -5, 0, 5, 10]
style_axis(pA.yaxis[0], yt, {v: signed(v) for v in yt}, (-10, 10), tick_out=8, standoff=5)

a_starts = np.cumsum([0] + a_sizes[:-1])
for s, n, ys, ys2 in zip(a_starts, a_sizes, [a_low_mrna, a_medium_mrna, a_high_mrna],
                         [a_low_mrna_b, a_medium_mrna_b, a_high_mrna_b]):
    pA.scatter(ranks(s, n, len(ys), 0.25), ys, size=PT, color="black", line_color=None)
    pA.scatter(ranks(s, n, len(ys2), 0.75), ys2, size=PT, color="black", line_color=None)
for s, rk, vals in zip(a_starts, [a_low_k36_rank, a_medium_k36_rank, a_high_k36_rank],
                       [a_low_k36, a_medium_k36, a_high_k36]):
    pA.line(s + np.array(rk), vals, color=RED, line_width=1.8)

a_text_x = [-39, 1224, 2423]
a_name_x = [477, 1559, 2577]
for tx, nx, nt, rt, g in zip(a_text_x, a_name_x, a_n_text, a_rho_text, a_groups):
    lab(pA, tx, 9.6, nt)
    lab(pA, tx, 8.2, rt)
    lab(pA, nx, -9.5, g, align="center")
side_title(pA, "D2 Log₂(H3K36me3/H3)", color=RED)
side_title(pA, "mRNA Log₂(D12/D2)")
pA.add_layout(Title(text="A", text_font=FONT, text_font_size="21px", text_font_style="bold",
                    align="left", offset=-79, standoff=0), "above")

# ======================= PANEL B =======================
bxr, byr = Range1d(-1.24, 41.13), Range1d(-1.04, 7)
pB = base_fig(388, 290, bxr, byr, 80, 0, 19, 8, xloc=None)
pB.outline_line_color = None
style_axis(pB.yaxis[0], list(range(8)), None, (0, 7), tick_out=7, standoff=4)
pB.yaxis[0].axis_label = "Variance"
pB.yaxis[0].axis_label_text_font = FONT
pB.yaxis[0].axis_label_text_font_size = "16px"
pB.yaxis[0].axis_label_text_font_style = "normal"
pB.yaxis[0].axis_label_standoff = 12
for gi, vals in enumerate([b_low_var, b_medium_var, b_high_var]):
    left = gi * 11 + np.arange(len(vals))
    pB.quad(left=left, right=left + 1, bottom=0, top=vals,
            fill_color="#bfbfbf", line_color="#3a3a3a", line_width=1)
    g0 = gi * 11
    lab(pB, g0 + 1.4, -0.31, "L", size="12px", align="center")
    lab(pB, g0 + 8.95, -0.31, "H", size="12px", align="center")
    pB.add_layout(Arrow(end=NormalHead(size=7, fill_color="black", line_color="black"),
                        x_start=g0 + 2.2, y_start=-0.31, x_end=g0 + 7.9, y_end=-0.31,
                        line_width=2.5, line_color="black"))
b_name_x = [5.68, 17.37, 27.06]
for nx, g in zip(b_name_x, b_groups):
    lab(pB, nx, -0.74, g, size="15px", align="center")
lab(pB, 37.0, -0.31, "H3K36me3", size="12px", align="center")
letter_left(pB, "B", -7, 278)

# ======================= PANEL C =======================
cxr, cyr = Range1d(-2.16, 2.16), Range1d(-0.64, 3.14)
pC = base_fig(370, 308, cxr, cyr, 82, 15, 11, 69)
cyt = [-0.5, 0.0, 0.5, 1.0, 1.5, 2.0, 2.5, 3.0]
style_axis(pC.yaxis[0], cyt, {v: f"{v:.1f}".replace("-", MINUS) for v in cyt},
           None, tick_out=10, standoff=7)
cxt = [-2, -1, 0, 1, 2]
style_axis(pC.xaxis[0], cxt, {v: signed(v) for v in cxt}, None, tick_out=7, standoff=2)
pC.xaxis[0].axis_label = "D2 Log₂(H3K36me3/H3) median"
pC.xaxis[0].axis_label_text_font = FONT
pC.xaxis[0].axis_label_text_font_size = "15px"
pC.xaxis[0].axis_label_text_font_style = "normal"
pC.xaxis[0].axis_label_standoff = 10

c_colors = ["#3c55a5", "#1d6a34", "#e8262c"]
items = []
for xs, vars_, col, g, r2 in zip([c_low_median, c_medium_median, c_high_median],
                                 [b_low_var, b_medium_var, b_high_var], c_colors, b_groups, c_r2):
    ys = np.log2(vars_)
    grad, icpt = np.polyfit(xs, ys, 1)
    pC.add_layout(Slope(gradient=grad, y_intercept=icpt, line_color=col, line_width=1.6))
    pC.scatter(xs, ys, size=7, color=col, line_color=None)
    # legend swatch renderer: one NaN row, so nothing is drawn in the plot area
    sw = pC.quad(left=[np.nan], right=[np.nan], top=[np.nan], bottom=[np.nan],
                 fill_color=col, line_color=None)
    items.append(LegendItem(label=f"{g} R²={r2}", renderers=[sw]))
leg = Legend(items=items, location=(144, 174), border_line_color=None,
             background_fill_alpha=0, padding=0, margin=0, spacing=0,
             glyph_width=9, glyph_height=9, label_standoff=7, label_height=17,
             label_text_font=FONT, label_text_font_size="14px", label_text_color="black")
pC.add_layout(leg)
side_title(pC, "Log₂(Variance)", align="left", offset=85, standoff=0)
letter_left(pC, "C", 2, 240)

# ======================= PANEL D =======================
dxr, dyr = Range1d(-123, 3378), Range1d(-10.78, 10.78)
pD = base_fig(396, 308, dxr, dyr, 98, 26, 17, 62)
style_axis(pD.yaxis[0], yt, {v: signed(v) for v in yt}, (-10, 10), tick_out=7, standoff=8)
dxt = [0, 500, 1000, 1500, 2000, 2500, 3000]
style_axis(pD.xaxis[0], dxt, {v: (str(v) if v % 1000 == 0 else "") for v in dxt},
           (0, 3000), tick_out=7, standoff=5)
d_lists = [d_g1_mrna, d_g2_mrna, d_g3_mrna, d_g4_mrna, d_g5_mrna]
d_lists_b = [d_g1_mrna_b, d_g2_mrna_b, d_g3_mrna_b, d_g4_mrna_b, d_g5_mrna_b]
d_k_r = [d_g1_k36_rank, d_g2_k36_rank, d_g3_k36_rank, d_g4_k36_rank, d_g5_k36_rank]
d_k_v = [d_g1_k36, d_g2_k36, d_g3_k36, d_g4_k36, d_g5_k36]
for gi, (ys, ys2) in enumerate(zip(d_lists, d_lists_b)):
    s, e = d_bounds[gi], d_bounds[gi + 1]
    pD.scatter(ranks(s, e - s, len(ys), 0.25), ys, size=PT, color="black", line_color=None)
    pD.scatter(ranks(s, e - s, len(ys2), 0.75), ys2, size=PT, color="black", line_color=None)
for rk, vals in zip(d_k_r, d_k_v):
    pD.line(rk, vals, color=RED, line_width=1.8)
d_g_x = [244, 1060, 1832, 2466, 3120]
d_rho_x = [281, 1060, 1907, 2523, 3088]
d_star_x = [352, 1201, 2025, 2605, 3249]
for gx, rx, sx, g, r in zip(d_g_x, d_rho_x, d_star_x, d_groups, d_rho):
    lab(pD, gx, 9.7, g, size="12px", align="center")
    lab(pD, rx, 8.43, r, size="12px", align="center")
    lab(pD, sx, 7.5, "***", size="11px", align="center")
side_title(pD, "D2 Log₂(H3K36me3/H3)", color=RED)
side_title(pD, "mRNA Log₂(D12/D2)")
letter_left(pD, "D", 9, 247)

# ======================= PANEL E (table) =======================
pE = base_fig(766, 229, Range1d(0, 766), Range1d(229, 0), 0, 0, 0, 0, xloc=None, yloc=None)
pE.outline_line_color = None
col_edges = np.array([56.7, 145.7, 266.7, 371.7, 439.3])
head_top, head_h, gap, row_h = 29.7, 49, 2.3, 29
pE.quad(left=col_edges[:-1], right=col_edges[1:], top=head_top, bottom=head_top + head_h,
        fill_color="black", line_color="white", line_width=2.5)
ncol = len(col_edges) - 1
nrow = len(e_group)
cx = (col_edges[:-1] + col_edges[1:]) / 2
rows_top = head_top + head_h + gap + np.arange(nrow) * row_h
row_fill = ["#d2d2d2" if i % 2 == 0 else "#e9e9e9" for i in range(nrow)]
for j in range(ncol):
    pE.quad(left=col_edges[j], right=col_edges[j + 1], top=rows_top, bottom=rows_top + row_h,
            fill_color=row_fill, line_color="white", line_width=2.5)
pE.text(x=cx, y=[head_top + 15.5] * ncol, text=e_header_1, text_font=value(TFONT),
        text_font_size=value("16px"), text_font_style="bold", text_color="white",
        text_align="center", text_baseline="middle")
pE.text(x=cx, y=[head_top + 37.5] * ncol, text=e_header_2, text_font=value(TFONT),
        text_font_size=value("16px"), text_font_style="bold", text_color="white",
        text_align="center", text_baseline="middle")
cells = [e_group, e_length, [f"{v:.2f}" for v in e_coef], [f"{v:.2f}" for v in e_r2]]
for j in range(ncol):
    pE.text(x=[cx[j]] * nrow, y=rows_top + row_h / 2, text=cells[j], text_font=value(TFONT),
            text_font_size=value("16px"), text_color="#262626",
            text_align="center", text_baseline="middle")
pE.add_layout(Label(x=2, y=8, text="E", text_font=FONT, text_font_size="21px",
                    text_font_style="bold", text_baseline="top"))

layout = column(row(pA, pB), row(pC, pD), pE)
with open("out.html", "w") as f:
    f.write(file_html(layout, INLINE))
